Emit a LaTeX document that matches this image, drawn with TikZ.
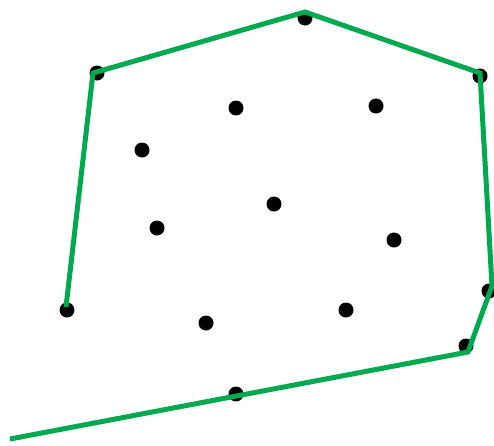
\documentclass[tikz,border=0pt]{standalone}
\usepackage{tikz}
\usetikzlibrary{calc}
\definecolor{hullgreen}{RGB}{0,168,80}

\begin{document}
\begin{tikzpicture}[x=1pt,y=-1pt,
  dot/.style={circle,fill=black,inner sep=0pt,minimum size=15pt}]
  \useasboundingbox (0,0) rectangle (494,445);
  % points
  \foreach \name/\x/\y in {a/305/18,b/97/73,c/480/76,d/236/108,e/376/106,
      f/142/150,g/274/204,h/157/228,i/394/240,j/489/291,k/67/310,
      l/206/323,m/346/310,n/466/346,o/236/394}
    \node[dot] (\name) at (\x,\y) {};
  % hull
  \coordinate (H1) at (66,307);
  \coordinate (H2) at (93,73);
  \coordinate (H3) at (305,12);
  \coordinate (H4) at (480,73);
  \coordinate (H5) at (492,286);
  \coordinate (H6) at (468,352);
  \coordinate (H7) at (10,439);
  \draw[hullgreen,line width=5pt,line join=miter]
    (H1) -- (H2) -- (H3) -- (H4) -- (H5) -- (H6) -- (H7);
\end{tikzpicture}
\end{document}
